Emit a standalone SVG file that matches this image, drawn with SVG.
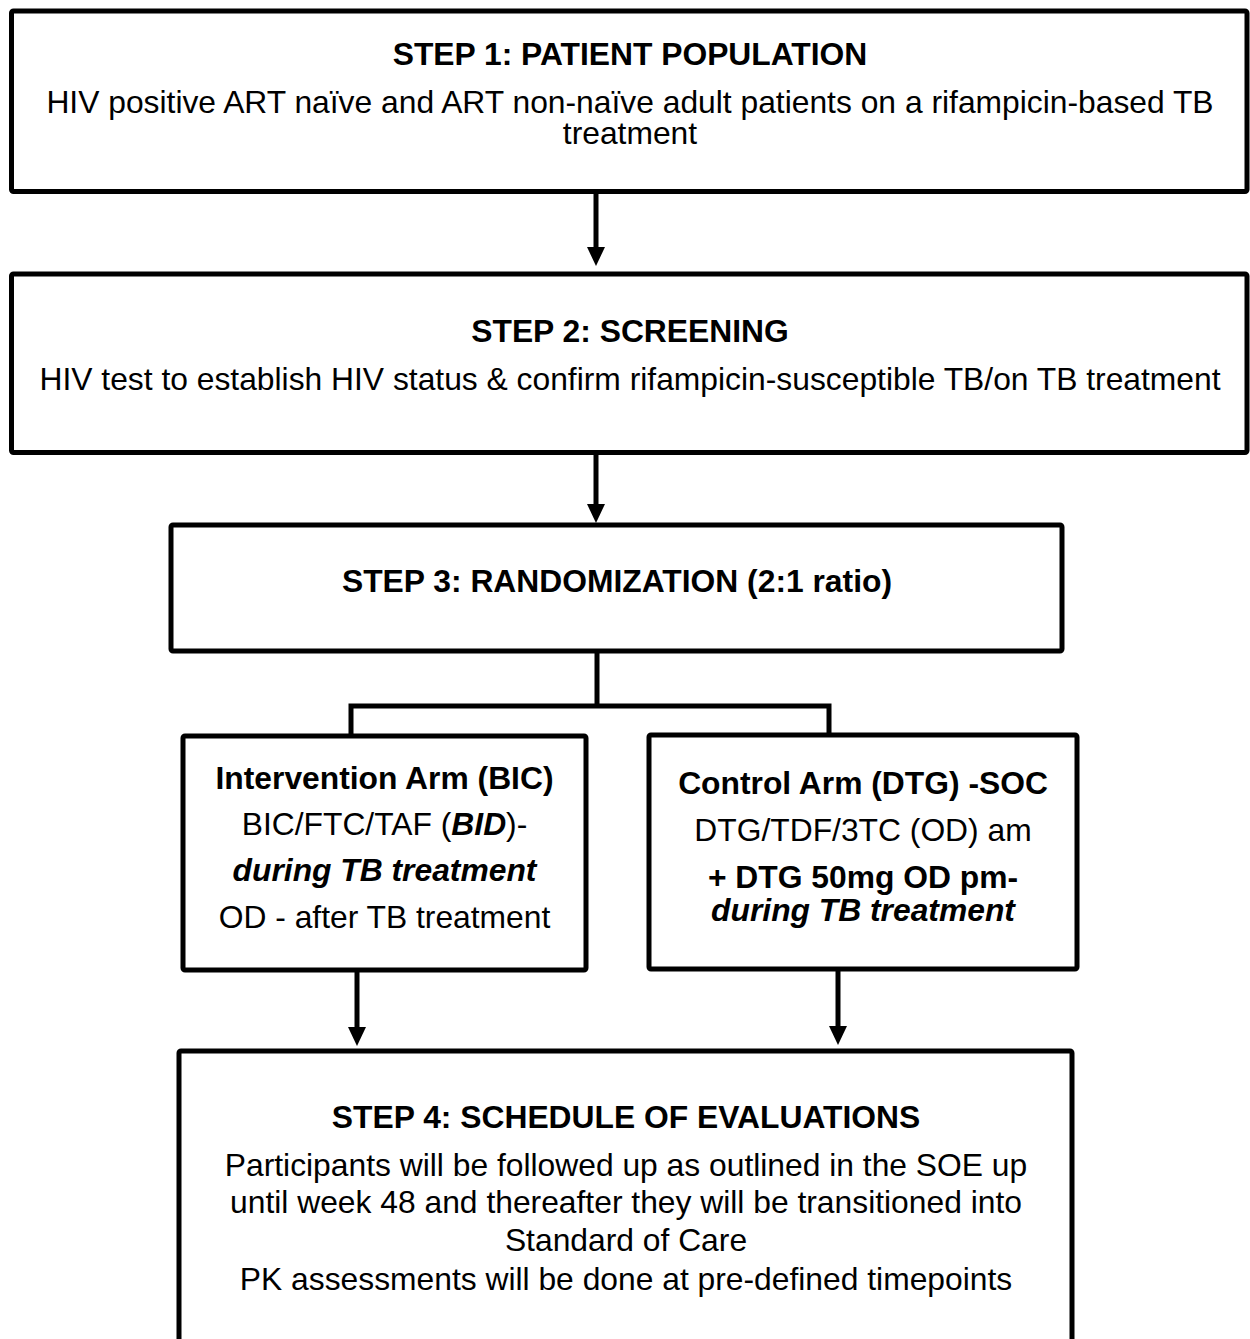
<svg xmlns="http://www.w3.org/2000/svg" width="1250" height="1339" viewBox="0 0 1250 1339">
<style>
  .box { fill: #fff; stroke: #000; stroke-width: 5; }
  .conn { fill: none; stroke: #000; stroke-width: 5; }
  .head { fill: #000; stroke: none; }
  text { font-family: "Liberation Sans", Arial, sans-serif; font-size: 31.8px; fill: #000; text-anchor: middle; }
  .b { font-weight: bold; }
  .bi { font-weight: bold; font-style: italic; }
</style>
<rect width="1250" height="1339" fill="#fff"/>

<g id="connectors">
  <line class="conn" x1="596" y1="191" x2="596" y2="250"/>
  <polygon class="head" points="587,247 605,247 596,266"/>
  <line class="conn" x1="596" y1="453" x2="596" y2="507"/>
  <polygon class="head" points="587,504 605,504 596,523"/>
  <polyline class="conn" points="597,651 597,706"/>
  <polyline class="conn" points="351,736 351,706 829,706 829,736"/>
  <line class="conn" x1="357" y1="970" x2="357" y2="1030"/>
  <polygon class="head" points="348,1027 366,1027 357,1046"/>
  <line class="conn" x1="838" y1="969" x2="838" y2="1029"/>
  <polygon class="head" points="829,1026 847,1026 838,1045"/>
</g>

<g id="step1">
  <rect class="box" x="11.5" y="11" width="1235.5" height="180.5" rx="2"/>
  <text class="b" x="630" y="65">STEP 1: PATIENT POPULATION</text>
  <text x="630" y="113">HIV positive ART naïve and ART non-naïve adult patients on a rifampicin-based TB</text>
  <text x="630" y="144">treatment</text>
</g>

<g id="step2">
  <rect class="box" x="11.5" y="274" width="1235.5" height="178.5" rx="2"/>
  <text class="b" x="630" y="342">STEP 2: SCREENING</text>
  <text x="630" y="390">HIV test to establish HIV status &amp; confirm rifampicin-susceptible TB/on TB treatment</text>
</g>

<g id="step3">
  <rect class="box" x="171" y="525" width="891" height="126" rx="2"/>
  <text class="b" x="617" y="592">STEP 3: RANDOMIZATION (2:1 ratio)</text>
</g>

<g id="intervention">
  <rect class="box" x="183" y="736" width="403" height="234" rx="2"/>
  <text class="b" x="384.5" y="789">Intervention Arm (BIC)</text>
  <text x="384.5" y="835">BIC/FTC/TAF (<tspan class="bi">BID</tspan>)-</text>
  <text class="bi" x="384.5" y="881">during TB treatment</text>
  <text x="384.5" y="928">OD - after TB treatment</text>
</g>

<g id="control">
  <rect class="box" x="649" y="735" width="428" height="234" rx="2"/>
  <text class="b" x="863" y="794">Control Arm (DTG) -SOC</text>
  <text x="863" y="841">DTG/TDF/3TC (OD) am</text>
  <text class="b" x="863" y="888">+ DTG 50mg OD pm-</text>
  <text class="bi" x="863" y="921">during TB treatment</text>
</g>

<g id="step4">
  <rect class="box" x="179" y="1051" width="893" height="300" rx="2"/>
  <text class="b" x="626" y="1128">STEP 4: SCHEDULE OF EVALUATIONS</text>
  <text x="626" y="1176">Participants will be followed up as outlined in the SOE up</text>
  <text x="626" y="1213">until week 48 and thereafter they will be transitioned into</text>
  <text x="626" y="1251">Standard of Care</text>
  <text x="626" y="1290">PK assessments will be done at pre-defined timepoints</text>
</g>
</svg>
